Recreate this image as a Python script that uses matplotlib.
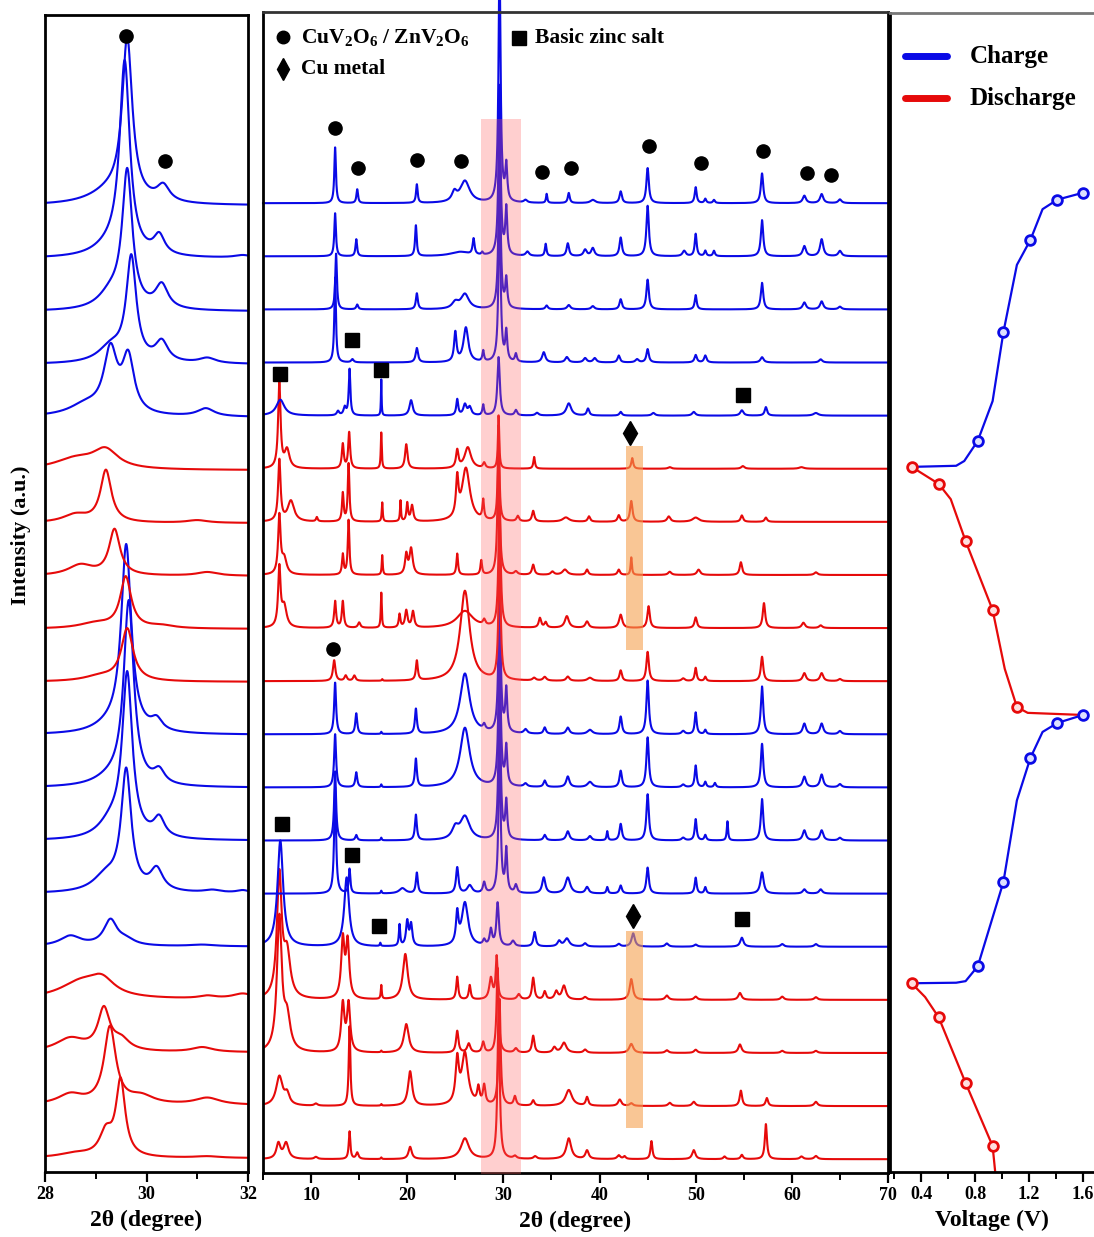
import numpy as np
import matplotlib
matplotlib.use('Agg')
import matplotlib.pyplot as plt
from matplotlib.ticker import MultipleLocator

plt.rcParams['font.family'] = ['Liberation Serif', 'DejaVu Serif']
plt.rcParams['font.weight'] = 'bold'
plt.rcParams['mathtext.fontset'] = 'custom'
plt.rcParams['mathtext.rm'] = 'Liberation Serif:bold'
plt.rcParams['mathtext.it'] = 'Liberation Serif:italic:bold'
plt.rcParams['mathtext.bf'] = 'Liberation Serif:bold'

# ---------------- data ----------------
# state of every pattern, from bottom (index 0) to top (index 18)
states = ['D', 'D', 'D', 'D', 'C', 'C', 'C', 'C', 'C',
          'D', 'D', 'D', 'D', 'D', 'C', 'C', 'C', 'C', 'C']

# peaks: (2theta, height, half width)
mid_peaks = [
    [(6.6,0.29,0.25),(7.4,0.30,0.3),(10.5,0.04,0.2),(14.0,0.52,0.1),(14.8,0.12,0.15),(17.3,0.03,0.06),(20.3,0.23,0.2),(26.0,0.39,0.5),(29.5,3.0,0.13),(31.2,0.05,0.2),(33.3,0.05,0.2),(36.8,0.39,0.3),(38.7,0.16,0.2),(42.0,0.07,0.2),(42.6,0.05,0.15),(45.4,0.34,0.12),(49.8,0.17,0.2),(53.0,0.05,0.15),(54.8,0.08,0.15),(57.3,0.66,0.13),(61.0,0.05,0.2),(62.5,0.06,0.2)],
    [(6.7,0.55,0.4),(7.5,0.2,0.3),(10.5,0.04,0.2),(14.0,1.5,0.1),(17.3,0.03,0.06),(20.3,0.65,0.25),(25.2,0.8,0.2),(26.0,0.97,0.4),(27.4,0.3,0.15),(28.0,0.35,0.15),(29.6,2.0,0.13),(31.2,0.17,0.15),(33.1,0.1,0.15),(36.8,0.3,0.4),(38.7,0.16,0.15),(42.1,0.12,0.2),(43.3,0.05,0.2),(47.3,0.06,0.2),(49.8,0.08,0.2),(54.7,0.29,0.15),(57.4,0.15,0.15),(62.5,0.08,0.2)],
    [(6.7,2.5,0.3),(7.5,0.6,0.4),(13.3,0.9,0.2),(13.9,0.9,0.2),(17.3,0.03,0.06),(19.9,0.54,0.3),(25.2,0.41,0.15),(26.4,0.17,0.2),(27.9,0.2,0.15),(29.4,1.6,0.13),(31.3,0.08,0.2),(33.1,0.32,0.15),(35.3,0.1,0.2),(36.3,0.19,0.3),(38.5,0.06,0.2),(43.3,0.17,0.25),(47.0,0.05,0.2),(50.0,0.06,0.2),(54.6,0.16,0.2),(59.0,0.04,0.2),(62.5,0.04,0.2)],
    [(6.7,2.3,0.3),(7.5,0.8,0.4),(13.3,1.1,0.2),(13.8,1.05,0.2),(17.3,0.26,0.06),(19.8,0.86,0.3),(25.2,0.43,0.12),(26.5,0.27,0.12),(28.7,0.4,0.2),(29.3,0.8,0.12),(31.6,0.1,0.2),(33.1,0.41,0.15),(34.3,0.15,0.15),(35.5,0.15,0.2),(36.3,0.26,0.25),(38.5,0.05,0.2),(43.3,0.39,0.2),(47.0,0.08,0.2),(50.0,0.06,0.2),(54.6,0.13,0.2),(59.0,0.06,0.2),(62.5,0.05,0.2)],
    [(6.8,2.0,0.35),(13.7,1.3,0.3),(17.2,0.06,0.06),(19.2,0.4,0.08),(20.0,0.46,0.15),(20.4,0.4,0.15),(25.2,0.56,0.15),(26.0,0.82,0.4),(28.0,0.1,0.15),(28.7,0.3,0.15),(29.4,0.81,0.15),(31.0,0.1,0.2),(33.25,0.27,0.15),(35.8,0.1,0.2),(36.6,0.15,0.3),(38.5,0.06,0.2),(42.0,0.05,0.2),(43.5,0.25,0.2),(47.0,0.06,0.2),(50.0,0.04,0.2),(54.8,0.17,0.2),(59.0,0.05,0.2),(62.5,0.05,0.2)],
    [(12.5,2.0,0.12),(14.0,0.46,0.1),(17.3,0.05,0.06),(19.5,0.1,0.4),(21.0,0.39,0.12),(25.2,0.49,0.15),(26.5,0.15,0.3),(28.0,0.2,0.15),(29.6,2.8,0.13),(30.3,0.8,0.12),(31.3,0.15,0.15),(34.2,0.3,0.2),(36.7,0.3,0.3),(38.7,0.12,0.2),(40.8,0.12,0.1),(42.2,0.15,0.15),(45.0,0.49,0.15),(50.0,0.3,0.12),(51.0,0.12,0.12),(56.9,0.4,0.2),(61.3,0.08,0.2),(63.0,0.08,0.2)],
    [(12.5,1.3,0.12),(14.7,0.1,0.12),(17.3,0.05,0.06),(20.9,0.48,0.12),(25.0,0.2,0.4),(26.0,0.44,0.6),(29.6,3.0,0.13),(30.3,0.7,0.12),(34.3,0.1,0.15),(36.7,0.17,0.2),(39.0,0.08,0.2),(40.8,0.17,0.08),(42.2,0.31,0.15),(45.0,0.87,0.15),(48.7,0.05,0.2),(50.0,0.4,0.12),(51.0,0.1,0.12),(53.3,0.36,0.08),(56.9,0.78,0.15),(61.3,0.19,0.2),(63.1,0.19,0.2),(65.0,0.05,0.2)],
    [(12.5,1.0,0.12),(14.7,0.28,0.12),(17.3,0.05,0.06),(20.9,0.53,0.12),(26.0,1.12,0.6),(29.6,3.0,0.13),(30.3,0.72,0.12),(32.3,0.06,0.2),(34.3,0.12,0.15),(36.7,0.2,0.2),(39.0,0.1,0.3),(42.2,0.31,0.15),(45.0,0.94,0.15),(48.7,0.05,0.2),(50.0,0.41,0.12),(51.0,0.1,0.12),(52.0,0.08,0.12),(56.9,0.82,0.15),(61.3,0.2,0.2),(63.1,0.24,0.2),(65.0,0.06,0.2)],
    [(12.5,0.97,0.12),(14.7,0.39,0.12),(17.3,0.04,0.06),(20.9,0.47,0.12),(26.0,1.14,0.6),(28.0,0.1,0.15),(29.6,3.0,0.13),(30.3,0.8,0.12),(32.3,0.08,0.2),(34.3,0.12,0.15),(36.7,0.12,0.2),(39.0,0.08,0.3),(42.2,0.33,0.15),(45.0,1.01,0.15),(48.7,0.06,0.2),(50.0,0.41,0.12),(51.0,0.08,0.12),(56.9,0.9,0.15),(61.3,0.2,0.2),(63.1,0.2,0.2),(65.0,0.06,0.2)],
    [(12.4,0.39,0.15),(13.6,0.1,0.15),(14.5,0.1,0.15),(17.4,0.03,0.06),(21.0,0.37,0.12),(26.0,1.7,0.6),(29.6,2.5,0.13),(33.2,0.05,0.2),(34.3,0.07,0.2),(36.7,0.08,0.2),(39.0,0.06,0.3),(42.2,0.2,0.15),(45.0,0.55,0.15),(48.7,0.05,0.2),(50.0,0.25,0.12),(51.0,0.08,0.12),(56.9,0.46,0.15),(61.3,0.15,0.2),(63.1,0.15,0.2),(65.0,0.04,0.2)],
    [(6.7,1.1,0.15),(7.2,0.4,0.3),(12.5,0.5,0.12),(13.3,0.5,0.12),(15.0,0.1,0.15),(17.3,0.66,0.06),(19.2,0.25,0.1),(19.9,0.32,0.15),(20.6,0.3,0.15),(26.0,0.32,1.0),(28.0,0.1,0.15),(29.6,2.5,0.13),(33.8,0.18,0.15),(34.4,0.1,0.15),(36.6,0.22,0.25),(38.7,0.12,0.2),(42.2,0.25,0.2),(45.1,0.41,0.15),(50.0,0.2,0.15),(57.1,0.47,0.15),(61.2,0.1,0.2),(63.0,0.05,0.2)],
    [(6.7,1.09,0.15),(7.2,0.3,0.3),(13.3,0.38,0.1),(13.9,1.03,0.1),(17.4,0.37,0.06),(19.9,0.37,0.15),(20.4,0.49,0.2),(25.2,0.4,0.1),(27.7,0.27,0.1),(29.5,2.5,0.13),(31.3,0.06,0.2),(33.1,0.19,0.15),(35.1,0.06,0.2),(36.4,0.1,0.3),(38.7,0.1,0.15),(42.0,0.1,0.15),(43.3,0.33,0.08),(47.3,0.06,0.2),(50.3,0.1,0.2),(54.7,0.24,0.15),(62.5,0.05,0.2)],
    [(6.7,1.15,0.15),(7.9,0.39,0.4),(10.6,0.08,0.1),(13.3,0.53,0.1),(13.9,1.09,0.1),(17.4,0.36,0.06),(19.3,0.39,0.06),(20.0,0.34,0.1),(20.5,0.3,0.15),(25.2,0.7,0.15),(26.1,1.0,0.5),(27.9,0.36,0.1),(29.5,1.8,0.1),(31.5,0.1,0.15),(33.1,0.2,0.15),(36.5,0.08,0.4),(38.9,0.1,0.15),(42.0,0.12,0.15),(43.3,0.39,0.15),(47.2,0.1,0.2),(50.0,0.08,0.4),(54.8,0.12,0.15),(57.3,0.08,0.15)],
    [(6.7,1.6,0.15),(7.5,0.35,0.3),(13.3,0.46,0.12),(13.96,0.68,0.12),(17.3,0.68,0.06),(19.9,0.46,0.15),(25.2,0.33,0.15),(26.3,0.4,0.4),(28.0,0.1,0.15),(29.5,1.0,0.08),(33.2,0.22,0.1),(43.4,0.2,0.12),(47.3,0.03,0.2),(54.9,0.05,0.2),(61.0,0.03,0.3)],
    [(6.8,0.3,0.5),(12.8,0.08,0.15),(13.5,0.15,0.15),(14.0,0.87,0.1),(17.3,0.68,0.04),(20.4,0.29,0.2),(25.2,0.3,0.12),(26.0,0.2,0.2),(26.5,0.15,0.2),(27.9,0.2,0.1),(29.5,1.1,0.15),(31.3,0.1,0.15),(33.5,0.05,0.2),(36.8,0.23,0.3),(38.8,0.13,0.15),(42.2,0.07,0.15),(45.6,0.05,0.2),(49.8,0.07,0.2),(54.8,0.1,0.2),(57.3,0.16,0.15),(62.5,0.05,0.3)],
    [(12.5,1.6,0.1),(14.3,0.06,0.15),(21.0,0.27,0.15),(25.0,0.55,0.15),(26.1,0.65,0.3),(27.9,0.2,0.1),(29.6,3.0,0.13),(30.3,0.55,0.12),(31.3,0.15,0.12),(34.2,0.19,0.2),(36.6,0.1,0.2),(38.5,0.08,0.2),(39.5,0.08,0.2),(42.0,0.13,0.15),(43.9,0.06,0.2),(45.0,0.25,0.15),(50.0,0.14,0.15),(51.0,0.13,0.15),(56.9,0.1,0.2),(63.0,0.06,0.2)],
    [(12.6,1.05,0.1),(14.8,0.09,0.12),(21.0,0.3,0.12),(25.0,0.12,0.4),(26.0,0.28,0.5),(29.6,3.0,0.13),(30.3,0.54,0.12),(34.5,0.07,0.15),(36.8,0.08,0.2),(39.3,0.06,0.2),(42.2,0.19,0.15),(45.0,0.56,0.15),(50.0,0.27,0.12),(56.9,0.5,0.15),(61.3,0.13,0.2),(63.1,0.15,0.2),(65.0,0.05,0.2)],
    [(12.5,0.81,0.1),(14.7,0.32,0.1),(20.9,0.58,0.1),(25.5,0.08,1.2),(26.9,0.3,0.12),(27.8,0.05,0.1),(29.6,3.2,0.13),(30.3,0.87,0.12),(32.5,0.08,0.2),(34.4,0.23,0.1),(36.7,0.24,0.15),(38.5,0.12,0.2),(39.3,0.15,0.2),(42.2,0.35,0.15),(45.0,0.95,0.15),(48.8,0.1,0.2),(50.0,0.42,0.12),(51.0,0.1,0.12),(51.9,0.1,0.12),(56.9,0.68,0.15),(61.3,0.19,0.2),(63.1,0.32,0.2),(65.0,0.1,0.2)],
    [(12.5,1.05,0.1),(14.8,0.26,0.1),(21.0,0.35,0.1),(24.9,0.17,0.3),(26.0,0.41,0.6),(29.6,4.5,0.13),(30.3,0.66,0.12),(32.3,0.05,0.2),(34.5,0.17,0.08),(36.8,0.19,0.12),(39.3,0.06,0.3),(42.2,0.22,0.15),(45.0,0.66,0.15),(50.0,0.30,0.12),(51.0,0.08,0.12),(51.9,0.06,0.12),(56.9,0.56,0.15),(61.3,0.14,0.2),(63.1,0.17,0.2),(65.0,0.07,0.2)],
]

# peaks read from the 28-32 degree close-up
left_peaks = [
    [(28.6,0.08,0.4),(29.2,0.44,0.15),(29.49,1.42,0.11),(31.2,0.03,0.3)],
    [(28.5,0.19,0.3),(29.28,1.45,0.14),(29.9,0.15,0.3),(31.2,0.13,0.3)],
    [(28.5,0.25,0.35),(29.16,0.77,0.14),(29.5,0.2,0.2),(31.1,0.09,0.25)],
    [(28.7,0.3,0.5),(29.12,0.3,0.3),(31.2,0.05,0.2),(31.9,0.1,0.25)],
    [(28.5,0.19,0.25),(29.29,0.48,0.16),(29.6,0.1,0.2),(31.1,0.03,0.3)],
    [(29.2,0.3,0.3),(29.6,2.25,0.12),(30.2,0.41,0.15),(31.3,0.05,0.2),(31.9,0.05,0.15)],
    [(29.3,0.3,0.3),(29.62,3.05,0.12),(30.25,0.36,0.13)],
    [(29.3,0.15,0.4),(29.65,3.45,0.12),(30.25,0.25,0.13)],
    [(29.3,0.15,0.4),(29.6,3.5,0.12),(30.2,0.21,0.13)],
    [(29.1,0.1,0.4),(29.62,0.98,0.14)],
    [(29.0,0.1,0.4),(29.59,0.96,0.13),(30.3,0.05,0.3)],
    [(28.7,0.2,0.3),(29.37,0.86,0.13),(31.2,0.07,0.25)],
    [(28.6,0.15,0.3),(29.2,0.98,0.13),(31.0,0.05,0.25)],
    [(28.6,0.2,0.5),(29.19,0.35,0.3)],
    [(28.8,0.2,0.4),(29.29,1.18,0.16),(29.64,1.03,0.14),(31.17,0.15,0.2)],
    [(29.3,0.3,0.3),(29.7,1.95,0.12),(30.3,0.38,0.15),(31.2,0.1,0.2)],
    [(29.3,0.3,0.3),(29.62,2.55,0.12),(30.3,0.45,0.15)],
    [(29.3,0.2,0.4),(29.57,3.6,0.12),(30.25,0.36,0.13),(31.9,0.05,0.2)],
    [(29.3,0.25,0.5),(29.62,3.0,0.12),(30.33,0.3,0.15)],
]

# phase markers (2theta, stacked height)
cuv_marks_2t = [12.5, 14.9, 21.0, 25.6, 34.0, 37.0, 45.1, 50.6, 57.0, 61.6, 64.1, 12.3]
cuv_marks_y = [19.42, 18.66, 18.81, 18.79, 18.58, 18.66, 19.08, 18.75, 18.98, 18.57, 18.53, 9.60]
zinc_marks_2t = [14.3, 6.8, 17.3, 54.9, 7.0, 14.3, 17.1, 54.8]
zinc_marks_y = [15.43, 14.79, 14.85, 14.38, 6.32, 5.72, 4.40, 4.53]
cu_marks_2t = [43.2, 43.5]
cu_marks_y = [13.68, 4.58]
left_marks_2t = [29.6, 30.36]
left_marks_y = [21.2, 18.85]

# highlighted 2theta windows
pink_band = (27.7, 31.8, -0.3, 19.58)
orange_bands = [(42.7, 44.5, 9.58, 13.42), (42.7, 44.5, 0.58, 4.30)]

# voltage profile: (voltage, stacked position); lines and measured points
charge_lines = [
    ([0.34, 0.66, 0.72, 0.82, 0.93, 1.01, 1.11, 1.21, 1.30, 1.41, 1.60],
     [13.04, 13.06, 13.15, 13.53, 14.28, 15.58, 16.85, 17.32, 17.90, 18.08, 18.21]),
    ([0.33, 0.66, 0.73, 0.82, 1.01, 1.11, 1.21, 1.30, 1.41, 1.60],
     [3.30, 3.31, 3.34, 3.62, 5.21, 6.75, 7.55, 8.04, 8.21, 8.36]),
]
charge_pts_v = [0.82, 1.01, 1.21, 1.41, 1.60, 0.82, 1.01, 1.21, 1.41, 1.60]
charge_pts_y = [13.53, 15.58, 17.32, 18.08, 18.21, 3.62, 5.21, 7.55, 8.21, 8.36]
discharge_lines = [
    ([0.33, 0.53, 0.62, 0.73, 0.93, 1.02, 1.11, 1.19, 1.60],
     [13.04, 12.72, 12.43, 11.64, 10.34, 9.23, 8.51, 8.40, 8.36]),
    ([0.33, 0.43, 0.53, 0.73, 0.93, 0.95],
     [3.30, 3.04, 2.66, 1.42, 0.23, -0.28]),
]
discharge_pts_v = [0.33, 0.53, 0.73, 0.93, 1.11, 0.33, 0.53, 0.73, 0.93]
discharge_pts_y = [13.04, 12.72, 11.64, 10.34, 8.51, 3.30, 2.66, 1.42, 0.23]

BLUE = '#0a0ae6'
RED = '#e60a0a'
colors = {'C': BLUE, 'D': RED}

def pattern(x, peaks):
    y = np.zeros_like(x)
    for p, h, w in peaks:
        y += h * w**2 / ((x - p)**2 + w**2)
    return y

# ---------------- figure ----------------
W, H = 1094, 1237
fig = plt.figure(figsize=(W/100, H/100), dpi=100)

def frac(x0, x1, ytop=13, ybot=1172):
    return [x0/W, 1 - ybot/H, (x1-x0)/W, (ybot-ytop)/H]

axL = fig.add_axes(frac(45, 248, 15, 1172))
axM = fig.add_axes(frac(263, 888, 12, 1173))
axR = fig.add_axes(frac(890, 1094, 13, 1172))

YLIM = (-0.26, 21.6)
for ax in (axL, axM, axR):
    ax.set_ylim(*YLIM)
    ax.set_yticks([])
    for s in ax.spines.values():
        s.set_linewidth(2.0)
    ax.tick_params(axis='x', direction='out', length=7, width=1.6, labelsize=13, pad=3)
    ax.tick_params(axis='x', which='minor', direction='out', length=5, width=1.4)
axR.spines['right'].set_visible(False)
axR.spines['top'].set_color('#777777')
axM.spines['top'].set_color('#333333')

# left close-up
xl = np.linspace(28, 32, 1200)
for k, (pk, st) in enumerate(zip(left_peaks, states)):
    axL.plot(xl, k + pattern(xl, pk), color=colors[st], lw=1.5)
axL.set_xlim(28, 32)
axL.xaxis.set_major_locator(MultipleLocator(2))
axL.xaxis.set_minor_locator(MultipleLocator(1))
axL.plot(left_marks_2t, left_marks_y, 'o', color='black', ms=9.5, ls='none')
axL.set_xlabel('2θ (degree)', fontsize=17, fontweight='bold', labelpad=5)
axL.set_ylabel('Intensity (a.u.)', fontsize=16, fontweight='bold')
axL.yaxis.set_label_coords(-0.07, 0.55)

# middle wide range
xm = np.linspace(5, 70, 6500)
for k, (pk, st) in enumerate(zip(mid_peaks, states)):
    axM.plot(xm, k + pattern(xm, pk), color=colors[st], lw=1.5, zorder=2,
             clip_on=(k != len(mid_peaks) - 1))
axM.set_xlim(5, 70)
axM.xaxis.set_minor_locator(MultipleLocator(5))
axM.set_xticks([10, 20, 30, 40, 50, 60, 70])
axM.fill_between([pink_band[0], pink_band[1]], pink_band[2], pink_band[3],
                 color='#ff6060', alpha=0.3, lw=0, zorder=3)
for x0, x1, y0, y1 in orange_bands:
    axM.fill_between([x0, x1], y0, y1, color='#f5a04f', alpha=0.6, lw=0, zorder=3)
axM.plot(cuv_marks_2t, cuv_marks_y, 'o', color='black', ms=9.5, ls='none', zorder=5)
axM.plot(zinc_marks_2t, zinc_marks_y, 's', color='black', ms=10.5, ls='none', zorder=5)
axM.plot(cu_marks_2t, cu_marks_y, 'd', color='black', ms=12, ls='none', zorder=5)
axM.set_xlabel('2θ (degree)', fontsize=17, fontweight='bold', labelpad=5)

# phase legend in the middle panel
def axfrac_x(px):
    return (px - 263) / (888 - 263)
def axfrac_y(py):
    return 1 - (py - 12) / (1173 - 12)
tr = axM.transAxes
axM.plot([axfrac_x(283)], [axfrac_y(37)], 'o', color='black', ms=9, transform=tr, clip_on=False)
axM.text(axfrac_x(301), axfrac_y(38), r'CuV$_2$O$_6$ / ZnV$_2$O$_6$', transform=tr,
         fontsize=15.5, fontweight='bold', va='center', ha='left')
axM.plot([axfrac_x(519)], [axfrac_y(38)], 's', color='black', ms=10, transform=tr, clip_on=False)
axM.text(axfrac_x(535), axfrac_y(38), 'Basic zinc salt', transform=tr,
         fontsize=15.5, fontweight='bold', va='center', ha='left')
axM.plot([axfrac_x(283)], [axfrac_y(69)], 'd', color='black', ms=11, transform=tr, clip_on=False)
axM.text(axfrac_x(301), axfrac_y(69), 'Cu metal', transform=tr,
         fontsize=15.5, fontweight='bold', va='center', ha='left')

# right voltage profile
for vx, vy in charge_lines:
    axR.plot(vx, vy, color=BLUE, lw=1.6)
for vx, vy in discharge_lines:
    axR.plot(vx, vy, color=RED, lw=1.6)
axR.plot(charge_pts_v, charge_pts_y, 'o', ls='none', ms=7, mfc='#dde0ff', mec=BLUE, mew=2)
axR.plot(discharge_pts_v, discharge_pts_y, 'o', ls='none', ms=7, mfc='#ffdede', mec=RED, mew=2)
axR.set_xlim(0.17, 1.681)
axR.xaxis.set_minor_locator(MultipleLocator(0.2))
axR.set_xticks([0.4, 0.8, 1.2, 1.6])
axR.set_xlabel('Voltage (V)', fontsize=17, fontweight='bold', labelpad=5)

def rfx(px):
    return (px - 890) / 204
def rfy(py):
    return 1 - (py - 13) / (1172 - 13)
trR = axR.transAxes
axR.plot([rfx(905), rfx(947)], [rfy(56), rfy(56)], color=BLUE, lw=5, solid_capstyle='round', transform=trR)
axR.plot([rfx(905), rfx(947)], [rfy(98), rfy(98)], color=RED, lw=5, solid_capstyle='round', transform=trR)
axR.text(rfx(970), rfy(57), 'Charge', transform=trR, fontsize=18, fontweight='bold', va='center', ha='left')
axR.text(rfx(970), rfy(99), 'Discharge', transform=trR, fontsize=18, fontweight='bold', va='center', ha='left')

for ax in (axL, axM, axR):
    for lab in ax.get_xticklabels():
        lab.set_fontweight('bold')

fig.savefig('out.png', dpi=100)
